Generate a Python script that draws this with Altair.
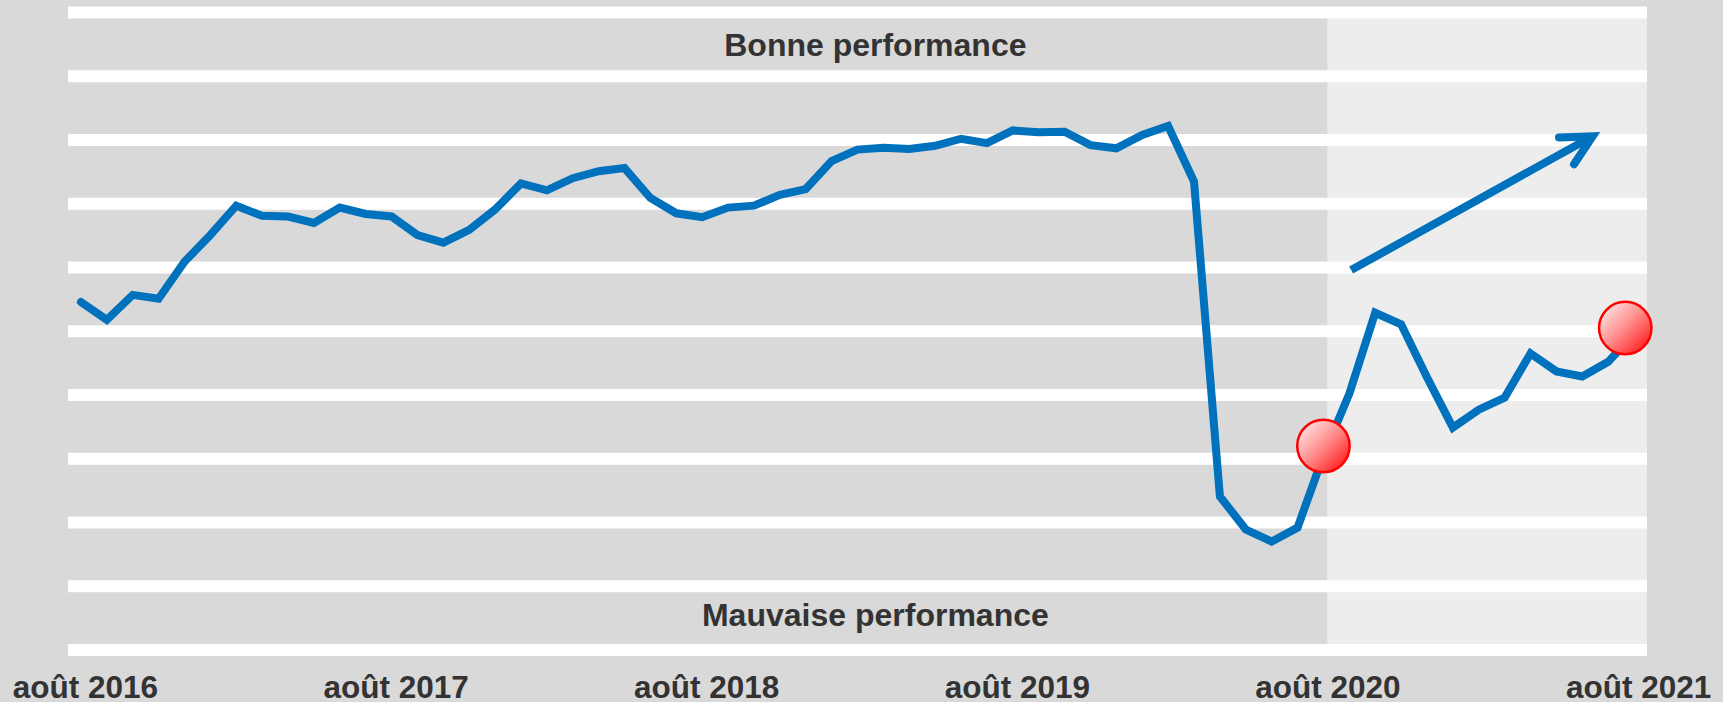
import altair as alt
import pandas as pd

# Monthly index (Aug 2016 = 0 ... Aug 2021 = 60) and performance values
values = [5.46, 5.18, 5.57, 5.51, 6.09, 6.51, 6.97, 6.81, 6.80, 6.70,
          6.94, 6.84, 6.80, 6.51, 6.39, 6.59, 6.91, 7.32, 7.21, 7.40,
          7.51, 7.56, 7.09, 6.85, 6.79, 6.94, 6.97, 7.14, 7.23, 7.67,
          7.85, 7.88, 7.86, 7.91, 8.02, 7.95, 8.15, 8.12, 8.13, 7.92,
          7.87, 8.08, 8.22, 7.35, 2.41, 1.89, 1.70, 1.92, 3.05, 4.02,
          5.29, 5.11, 4.28, 3.49, 3.77, 3.96, 4.65, 4.37, 4.29, 4.52,
          4.96]
months = list(range(len(values)))

tick_positions = [0, 12, 24, 36, 48, 60]
tick_labels = ["août 2016", "août 2017", "août 2018", "août 2019", "août 2020", "août 2021"]

grid_values = [0, 1, 2, 3, 4, 5, 6, 7, 8, 9, 10]

# shaded "forecast" zone
zone_start = [48.15]
zone_end = [60.5]

# red markers
marker_i = [48.0, 59.66]
marker_v = [3.2, 5.05]

# arrow (shaft, then head polyline)
shaft_i = [49.07, 58.4]
shaft_v = [5.96, 8.06]
head_i = [57.1, 58.4, 57.68]
head_v = [8.04, 8.06, 7.62]

# annotations
note_text = ["Bonne performance", "Mauvaise performance"]
note_i = [30.69, 30.69]
note_v = [9.32, 0.38]

TXT = "#333333"
BLUE = "#0071BC"

label_expr = "[" + ",".join("'" + l + "'" for l in tick_labels) + "][round(datum.value/12)]"

x_axis = alt.Axis(values=tick_positions, labelExpr=label_expr, grid=False, domain=False,
                  ticks=False, tickSize=0, labelPadding=47, labelBaseline="alphabetic",
                  labelFont="Liberation Sans", labelFontWeight="bold", labelFontSize=31.5,
                  labelColor=TXT, labelFlush=False, labelOverlap=False, labelOffset=4,
                  title=None)
x_scale = alt.Scale(domain=[-0.5, 60.5], nice=False, zero=False)
y_scale = alt.Scale(domain=[0, 10], nice=False, zero=False)


def X(f):
    return alt.X(f + ":Q", scale=x_scale, axis=x_axis)


def Y(f):
    return alt.Y(f + ":Q", scale=y_scale, axis=None)


line_df = pd.DataFrame({"i": months, "v": values})
zone_df = pd.DataFrame({"i": zone_start, "i2": zone_end, "v": [0], "v2": [10]})
grid_df = pd.DataFrame({"v": grid_values})
marker_df = pd.DataFrame({"i": marker_i, "v": marker_v})
shaft_df = pd.DataFrame({"i": shaft_i, "v": shaft_v, "o": list(range(len(shaft_i)))})
head_df = pd.DataFrame({"i": head_i, "v": head_v, "o": list(range(len(head_i)))})
note_df = pd.DataFrame({"i": note_i, "v": note_v, "t": note_text})

zone = alt.Chart(zone_df).mark_rect(color="#EDEDED").encode(
    x=X("i"), x2="i2:Q", y=Y("v"), y2="v2:Q")

grid = alt.Chart(grid_df).mark_rule(color="white", strokeWidth=12).encode(y=Y("v"))

line = alt.Chart(line_df).mark_line(color=BLUE, strokeWidth=8, strokeCap="round",
                                    strokeJoin="miter").encode(x=X("i"), y=Y("v"))

shaft = alt.Chart(shaft_df).mark_line(color=BLUE, strokeWidth=8, strokeCap="butt").encode(
    x=X("i"), y=Y("v"), order="o:Q")
head = alt.Chart(head_df).mark_line(color=BLUE, strokeWidth=8, strokeCap="round",
                                    strokeJoin="miter").encode(
    x=X("i"), y=Y("v"), order="o:Q")

grad = alt.Gradient(
    gradient="linear",
    stops=[alt.GradientStop(color="#FFE4E4", offset=0),
           alt.GradientStop(color="#FF8A8A", offset=0.5),
           alt.GradientStop(color="#FF1E1E", offset=1)],
    x1=0.1, y1=0.1, x2=0.9, y2=0.9)

markers = alt.Chart(marker_df).mark_point(shape="circle", filled=True, fill=grad, size=2750,
                                          stroke="#FF0000", strokeWidth=2.5, opacity=1).encode(
    x=X("i"), y=Y("v"))

notes = alt.Chart(note_df).mark_text(font="Liberation Sans", fontWeight="bold", fontSize=32,
                                     color=TXT, align="center", baseline="alphabetic").encode(
    x=X("i"), y=Y("v"), text="t:N")

chart = alt.layer(zone, grid, line, shaft, head, markers, notes).properties(
    width=1579, height=637.5,
    padding={"left": 68, "top": 12.5, "right": 76, "bottom": 52},
    autosize=alt.AutoSizeParams(type="none"),
    background="#D9D9D9",
).configure_view(stroke=None, fill="#D9D9D9")

chart.save("out.html", embed_options={"renderer": "svg", "actions": False})
